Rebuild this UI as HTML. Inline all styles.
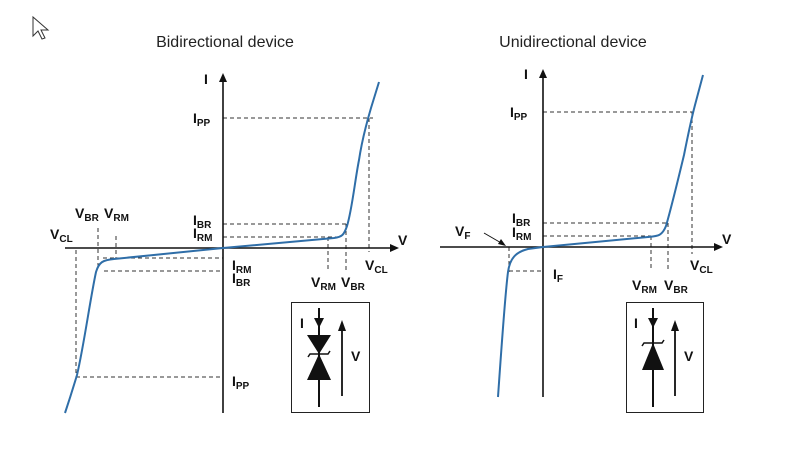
<!DOCTYPE html>
<html><head><meta charset="utf-8"><style>
html,body{margin:0;padding:0;background:#fff}
svg{display:block}
.t{font-family:"Liberation Sans",Arial,sans-serif;font-size:16px;fill:#222}
.l{font-family:"Liberation Sans",Arial,sans-serif;font-weight:bold;font-size:14px;fill:#111}
.l tspan.s{font-size:10px}
.d{stroke:#333;stroke-width:1;stroke-dasharray:4,3;fill:none}
.a{stroke:#111;stroke-width:1.6;fill:none}
.c{stroke:#2f6ea8;stroke-width:2;fill:none}
</style></head><body>
<svg width="810" height="454" viewBox="0 0 810 454" xmlns="http://www.w3.org/2000/svg">
<path d="M33 17 L33 36 L38 31 L42 39 L45 38 L41 30 L48 30 Z" fill="#fff" stroke="#333" stroke-width="1"/>
<text class="t" x="225" y="47" text-anchor="middle">Bidirectional device</text>
<text class="t" x="573" y="47" text-anchor="middle">Unidirectional device</text>

<g>
<path class="d" d="M223 118H373M223 224H348M223 237H338M328 237V270M346 224V270M369 118V252"/>
<path class="d" d="M76 250V377M76 377H223M98 228V270M116 236V259M103 258H223M104 271H223"/>
<line class="a" x1="223" y1="80" x2="223" y2="413"/>
<path d="M223 73 L219 82 L227 82 Z" fill="#111"/>
<line class="a" x1="65" y1="248" x2="392" y2="248"/>
<path d="M399 248 L390 244 L390 252 Z" fill="#111"/>
<path class="c" d="M65 413 C70 398 74 385 77 375 C84 345 90 300 96 272 C99 262 103 260 114 259 L223 248 L334 238 C342 237 344 235 347 226 C352 210 355 180 359 160 C362 140 366 125 371 108 L379 82"/>
<text class="l" x="204" y="84">I</text>
<text class="l" x="193" y="123">I<tspan class="s" dy="3">PP</tspan></text>
<text class="l" x="193" y="225">I<tspan class="s" dy="3">BR</tspan></text>
<text class="l" x="193" y="238">I<tspan class="s" dy="3">RM</tspan></text>
<text class="l" x="398" y="245">V</text>
<text class="l" x="365" y="270">V<tspan class="s" dy="3">CL</tspan></text>
<text class="l" x="311" y="287">V<tspan class="s" dy="3">RM</tspan></text>
<text class="l" x="341" y="287">V<tspan class="s" dy="3">BR</tspan></text>
<text class="l" x="75" y="218">V<tspan class="s" dy="3">BR</tspan></text>
<text class="l" x="104" y="218">V<tspan class="s" dy="3">RM</tspan></text>
<text class="l" x="50" y="239">V<tspan class="s" dy="3">CL</tspan></text>
<text class="l" x="232" y="270">I<tspan class="s" dy="3">RM</tspan></text>
<text class="l" x="232" y="283">I<tspan class="s" dy="3">BR</tspan></text>
<text class="l" x="232" y="386">I<tspan class="s" dy="3">PP</tspan></text>
<rect x="291.5" y="302.5" width="78" height="110" fill="none" stroke="#222" stroke-width="1"/>
<line x1="319" y1="308" x2="319" y2="407" stroke="#111" stroke-width="2"/>
<path d="M314 318 L324 318 L319 328 Z" fill="#111"/>
<path d="M307 335 L331 335 L319 354 Z" fill="#111"/>
<path d="M319 354 L307 380 L331 380 Z" fill="#111"/>
<path d="M308 357 L310 354 L328 354 L330 351" stroke="#111" stroke-width="1.5" fill="none"/>
<line x1="342" y1="330" x2="342" y2="396" stroke="#111" stroke-width="1.8"/>
<path d="M342 320 L338 331 L346 331 Z" fill="#111"/>
<text class="l" x="300" y="328">I</text>
<text class="l" x="351" y="361">V</text>
</g>

<g>
<path class="d" d="M543 112H697M543 223H668M543 236H651M651 236V270M668 223V270M692 112V254M509 247V272M509 271H543"/>
<line class="a" x1="543" y1="76" x2="543" y2="397"/>
<path d="M543 69 L539 78 L547 78 Z" fill="#111"/>
<line class="a" x1="440" y1="247" x2="716" y2="247"/>
<path d="M723 247 L714 243 L714 251 Z" fill="#111"/>
<path class="c" d="M498 397 C502 340 505 295 508 272 C510 258 516 252 528 249 L543 247 L648 237 C658 236 662 236 666 226 C672 205 678 180 684 155 C688 135 691 120 695 105 L703 75"/>
<text class="l" x="524" y="79">I</text>
<text class="l" x="510" y="117">I<tspan class="s" dy="3">PP</tspan></text>
<text class="l" x="512" y="223">I<tspan class="s" dy="3">BR</tspan></text>
<text class="l" x="512" y="237">I<tspan class="s" dy="3">RM</tspan></text>
<text class="l" x="455" y="236">V<tspan class="s" dy="3">F</tspan></text>
<line x1="484" y1="233" x2="503" y2="244" stroke="#111" stroke-width="1"/>
<path d="M506 246 L498 244 L501 239 Z" fill="#111"/>
<text class="l" x="553" y="279">I<tspan class="s" dy="3">F</tspan></text>
<text class="l" x="632" y="290">V<tspan class="s" dy="3">RM</tspan></text>
<text class="l" x="664" y="290">V<tspan class="s" dy="3">BR</tspan></text>
<text class="l" x="690" y="270">V<tspan class="s" dy="3">CL</tspan></text>
<text class="l" x="722" y="244">V</text>
<rect x="626.5" y="302.5" width="77" height="110" fill="none" stroke="#222" stroke-width="1"/>
<line x1="653" y1="308" x2="653" y2="407" stroke="#111" stroke-width="2"/>
<path d="M648 318 L658 318 L653 328 Z" fill="#111"/>
<path d="M653 343 L642 370 L664 370 Z" fill="#111"/>
<path d="M642 346 L644 343 L662 343 L664 340" stroke="#111" stroke-width="1.5" fill="none"/>
<line x1="675" y1="330" x2="675" y2="396" stroke="#111" stroke-width="1.8"/>
<path d="M675 320 L671 331 L679 331 Z" fill="#111"/>
<text class="l" x="634" y="328">I</text>
<text class="l" x="684" y="361">V</text>
</g>
</svg>
</body></html>
